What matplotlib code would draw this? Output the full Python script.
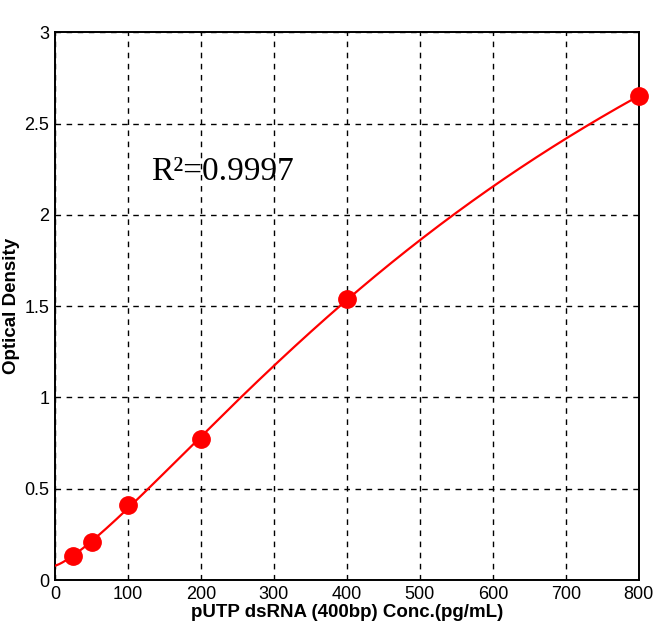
import numpy as np
import matplotlib
matplotlib.use("Agg")
import matplotlib.pyplot as plt

# data
conc = [25, 50, 100, 200, 400, 800]
od = [0.13, 0.21, 0.41, 0.77, 1.54, 2.65]
x_ticks = [0, 100, 200, 300, 400, 500, 600, 700, 800]
y_ticks = [0, 0.5, 1, 1.5, 2, 2.5, 3]
y_tick_labels = ["0", "0.5", "1", "1.5", "2", "2.5", "3"]
r2_text = "R²=0.9997"
x_label = "pUTP dsRNA (400bp) Conc.(pg/mL)"
y_label = "Optical Density"

tick_font = ["Liberation Sans Narrow", "Liberation Sans", "DejaVu Sans"]


def four_pl(p, x):
    a, b, c, d = p
    return d + (a - d) / (1.0 + (x / c) ** b)


def fit_4pl(x, y):
    x = np.asarray(x, float)
    y = np.asarray(y, float)
    p = np.array([0.05, 1.2, 1000.0, 6.0])
    lam = 1e-3
    def sse(q):
        return np.sum((four_pl(q, x) - y) ** 2)
    cur = sse(p)
    for _ in range(2000):
        r = four_pl(p, x) - y
        J = np.zeros((len(x), 4))
        for i in range(4):
            dp = np.zeros(4)
            h = 1e-6 * max(abs(p[i]), 1e-3)
            dp[i] = h
            J[:, i] = (four_pl(p + dp, x) - four_pl(p - dp, x)) / (2 * h)
        A = J.T @ J
        g = J.T @ r
        step = np.linalg.solve(A + lam * np.diag(np.diag(A) + 1e-12), -g)
        newp = p + step
        if newp[2] > 0 and newp[1] > 0:
            new = sse(newp)
        else:
            new = np.inf
        if new < cur:
            p, cur = newp, new
            lam *= 0.5
        else:
            lam *= 4
        if lam > 1e12:
            break
    return p


params = fit_4pl(conc, od)

fig = plt.figure(figsize=(6.71, 6.33), dpi=100)
ax = fig.add_axes([0.082, 0.0837, 0.870, 0.8654])

xs = np.linspace(0.01, 800, 400)
ax.plot(xs, four_pl(params, xs), color="#FF0000", lw=1.6, zorder=3)
ax.plot(conc, od, "o", color="#FF0000", markersize=12.5, zorder=4, clip_on=False)

ax.set_xlim(0, 800)
ax.set_ylim(0, 3)
ax.set_xticks(x_ticks)
ax.set_yticks(y_ticks)
ax.set_yticklabels(y_tick_labels)
ax.grid(True, color="black", linestyle=(0, (4, 4)), linewidth=1.0)
ax.set_axisbelow(True)
ax.tick_params(length=0, pad=4)
for lab in ax.get_xticklabels() + ax.get_yticklabels():
    lab.set_family(tick_font)
    lab.set_fontsize(13)
for s in ax.spines.values():
    s.set_linewidth(1.4)

ax.set_xlabel(x_label, fontsize=13.5, fontweight="bold", family="Liberation Sans", labelpad=1)
ax.set_ylabel(y_label, fontsize=13.5, fontweight="bold", family="Liberation Sans", labelpad=3)

ax.text(132, 2.19, r2_text, fontsize=24, family="Liberation Serif", ha="left", va="baseline")

fig.savefig("out.png", dpi=100)
